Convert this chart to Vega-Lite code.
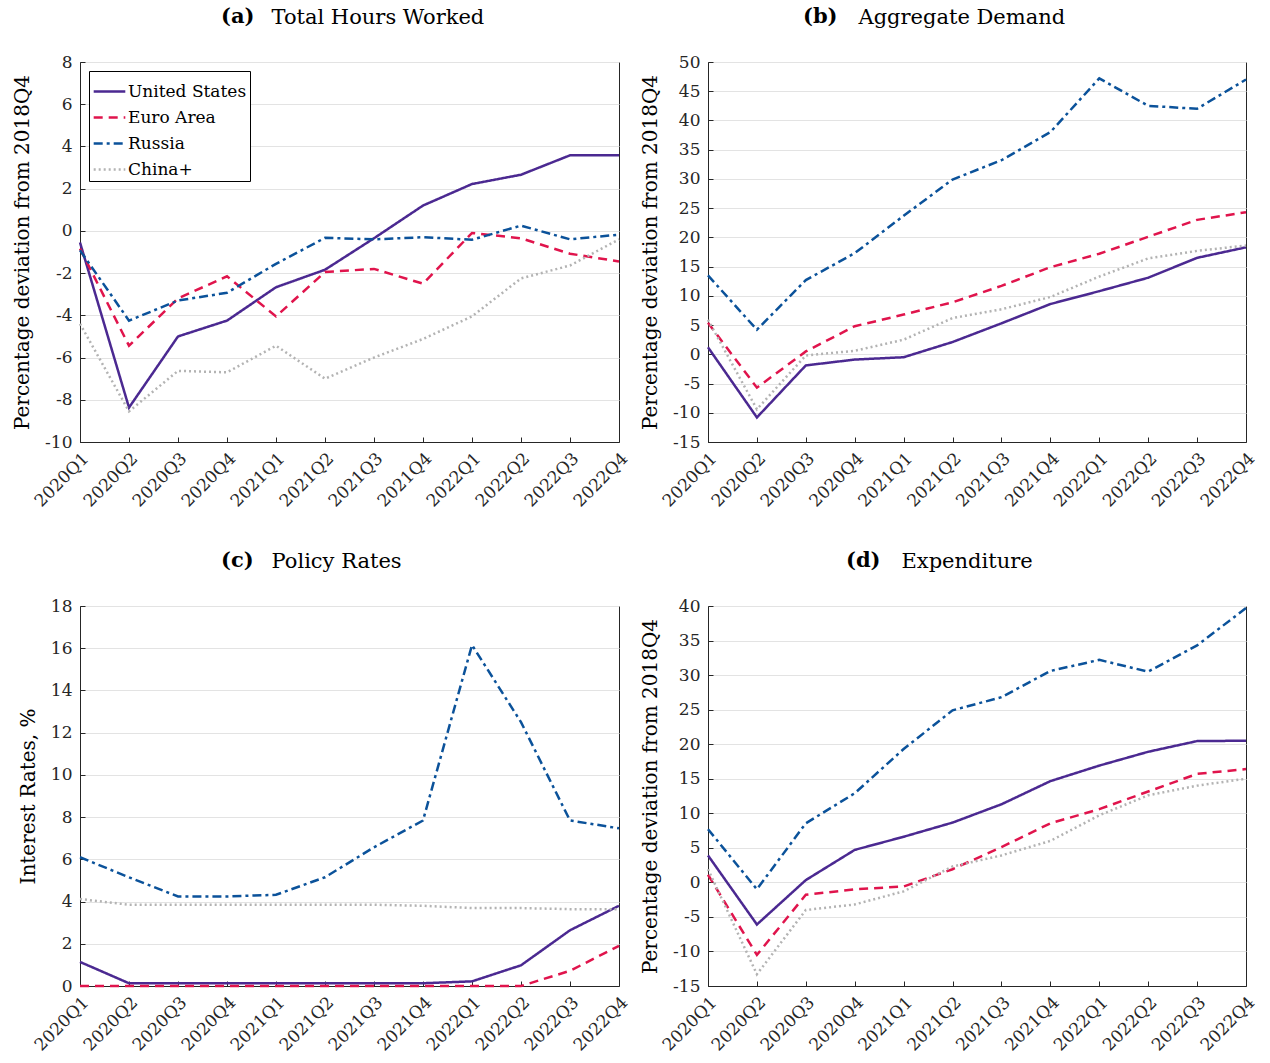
{
  "$schema": "https://vega.github.io/schema/vega-lite/v6.json",
  "background": "white",
  "padding": {"left": 12, "top": 5, "right": 5, "bottom": 5},
  "data": {
    "values": [
      {"p": "a", "q": "2020Q1", "c": "United States", "v": -0.55},
      {"p": "a", "q": "2020Q2", "c": "United States", "v": -8.37},
      {"p": "a", "q": "2020Q3", "c": "United States", "v": -5.0},
      {"p": "a", "q": "2020Q4", "c": "United States", "v": -4.25},
      {"p": "a", "q": "2021Q1", "c": "United States", "v": -2.67},
      {"p": "a", "q": "2021Q2", "c": "United States", "v": -1.84},
      {"p": "a", "q": "2021Q3", "c": "United States", "v": -0.35},
      {"p": "a", "q": "2021Q4", "c": "United States", "v": 1.2},
      {"p": "a", "q": "2022Q1", "c": "United States", "v": 2.22},
      {"p": "a", "q": "2022Q2", "c": "United States", "v": 2.66},
      {"p": "a", "q": "2022Q3", "c": "United States", "v": 3.58},
      {"p": "a", "q": "2022Q4", "c": "United States", "v": 3.58},
      {"p": "a", "q": "2020Q1", "c": "Euro Area", "v": -0.84},
      {"p": "a", "q": "2020Q2", "c": "Euro Area", "v": -5.44},
      {"p": "a", "q": "2020Q3", "c": "Euro Area", "v": -3.2},
      {"p": "a", "q": "2020Q4", "c": "Euro Area", "v": -2.15},
      {"p": "a", "q": "2021Q1", "c": "Euro Area", "v": -4.05},
      {"p": "a", "q": "2021Q2", "c": "Euro Area", "v": -1.95},
      {"p": "a", "q": "2021Q3", "c": "Euro Area", "v": -1.8},
      {"p": "a", "q": "2021Q4", "c": "Euro Area", "v": -2.5},
      {"p": "a", "q": "2022Q1", "c": "Euro Area", "v": -0.1},
      {"p": "a", "q": "2022Q2", "c": "Euro Area", "v": -0.35},
      {"p": "a", "q": "2022Q3", "c": "Euro Area", "v": -1.08},
      {"p": "a", "q": "2022Q4", "c": "Euro Area", "v": -1.45},
      {"p": "a", "q": "2020Q1", "c": "Russia", "v": -0.92},
      {"p": "a", "q": "2020Q2", "c": "Russia", "v": -4.25},
      {"p": "a", "q": "2020Q3", "c": "Russia", "v": -3.3},
      {"p": "a", "q": "2020Q4", "c": "Russia", "v": -2.93},
      {"p": "a", "q": "2021Q1", "c": "Russia", "v": -1.56},
      {"p": "a", "q": "2021Q2", "c": "Russia", "v": -0.33},
      {"p": "a", "q": "2021Q3", "c": "Russia", "v": -0.4},
      {"p": "a", "q": "2021Q4", "c": "Russia", "v": -0.3},
      {"p": "a", "q": "2022Q1", "c": "Russia", "v": -0.42},
      {"p": "a", "q": "2022Q2", "c": "Russia", "v": 0.25},
      {"p": "a", "q": "2022Q3", "c": "Russia", "v": -0.4},
      {"p": "a", "q": "2022Q4", "c": "Russia", "v": -0.18},
      {"p": "a", "q": "2020Q1", "c": "China+", "v": -4.4},
      {"p": "a", "q": "2020Q2", "c": "China+", "v": -8.55},
      {"p": "a", "q": "2020Q3", "c": "China+", "v": -6.63},
      {"p": "a", "q": "2020Q4", "c": "China+", "v": -6.7},
      {"p": "a", "q": "2021Q1", "c": "China+", "v": -5.44},
      {"p": "a", "q": "2021Q2", "c": "China+", "v": -7.0},
      {"p": "a", "q": "2021Q3", "c": "China+", "v": -6.0},
      {"p": "a", "q": "2021Q4", "c": "China+", "v": -5.12},
      {"p": "a", "q": "2022Q1", "c": "China+", "v": -4.05},
      {"p": "a", "q": "2022Q2", "c": "China+", "v": -2.25},
      {"p": "a", "q": "2022Q3", "c": "China+", "v": -1.64},
      {"p": "a", "q": "2022Q4", "c": "China+", "v": -0.4},

      {"p": "b", "q": "2020Q1", "c": "United States", "v": 1.2},
      {"p": "b", "q": "2020Q2", "c": "United States", "v": -10.8},
      {"p": "b", "q": "2020Q3", "c": "United States", "v": -1.9},
      {"p": "b", "q": "2020Q4", "c": "United States", "v": -0.9},
      {"p": "b", "q": "2021Q1", "c": "United States", "v": -0.5},
      {"p": "b", "q": "2021Q2", "c": "United States", "v": 2.1},
      {"p": "b", "q": "2021Q3", "c": "United States", "v": 5.3},
      {"p": "b", "q": "2021Q4", "c": "United States", "v": 8.6},
      {"p": "b", "q": "2022Q1", "c": "United States", "v": 10.8},
      {"p": "b", "q": "2022Q2", "c": "United States", "v": 13.1},
      {"p": "b", "q": "2022Q3", "c": "United States", "v": 16.5},
      {"p": "b", "q": "2022Q4", "c": "United States", "v": 18.3},
      {"p": "b", "q": "2020Q1", "c": "Euro Area", "v": 5.4},
      {"p": "b", "q": "2020Q2", "c": "Euro Area", "v": -5.7},
      {"p": "b", "q": "2020Q3", "c": "Euro Area", "v": 0.5},
      {"p": "b", "q": "2020Q4", "c": "Euro Area", "v": 4.8},
      {"p": "b", "q": "2021Q1", "c": "Euro Area", "v": 6.8},
      {"p": "b", "q": "2021Q2", "c": "Euro Area", "v": 8.9},
      {"p": "b", "q": "2021Q3", "c": "Euro Area", "v": 11.7},
      {"p": "b", "q": "2021Q4", "c": "Euro Area", "v": 14.9},
      {"p": "b", "q": "2022Q1", "c": "Euro Area", "v": 17.2},
      {"p": "b", "q": "2022Q2", "c": "Euro Area", "v": 20.1},
      {"p": "b", "q": "2022Q3", "c": "Euro Area", "v": 23.0},
      {"p": "b", "q": "2022Q4", "c": "Euro Area", "v": 24.3},
      {"p": "b", "q": "2020Q1", "c": "Russia", "v": 13.5},
      {"p": "b", "q": "2020Q2", "c": "Russia", "v": 4.2},
      {"p": "b", "q": "2020Q3", "c": "Russia", "v": 12.7},
      {"p": "b", "q": "2020Q4", "c": "Russia", "v": 17.3},
      {"p": "b", "q": "2021Q1", "c": "Russia", "v": 23.7},
      {"p": "b", "q": "2021Q2", "c": "Russia", "v": 29.9},
      {"p": "b", "q": "2021Q3", "c": "Russia", "v": 33.2},
      {"p": "b", "q": "2021Q4", "c": "Russia", "v": 38.0},
      {"p": "b", "q": "2022Q1", "c": "Russia", "v": 47.2},
      {"p": "b", "q": "2022Q2", "c": "Russia", "v": 42.5},
      {"p": "b", "q": "2022Q3", "c": "Russia", "v": 42.0},
      {"p": "b", "q": "2022Q4", "c": "Russia", "v": 47.0},
      {"p": "b", "q": "2020Q1", "c": "China+", "v": 5.9},
      {"p": "b", "q": "2020Q2", "c": "China+", "v": -9.4},
      {"p": "b", "q": "2020Q3", "c": "China+", "v": -0.2},
      {"p": "b", "q": "2020Q4", "c": "China+", "v": 0.6},
      {"p": "b", "q": "2021Q1", "c": "China+", "v": 2.5},
      {"p": "b", "q": "2021Q2", "c": "China+", "v": 6.2},
      {"p": "b", "q": "2021Q3", "c": "China+", "v": 7.7},
      {"p": "b", "q": "2021Q4", "c": "China+", "v": 9.8},
      {"p": "b", "q": "2022Q1", "c": "China+", "v": 13.3},
      {"p": "b", "q": "2022Q2", "c": "China+", "v": 16.4},
      {"p": "b", "q": "2022Q3", "c": "China+", "v": 17.7},
      {"p": "b", "q": "2022Q4", "c": "China+", "v": 18.6},

      {"p": "c", "q": "2020Q1", "c": "United States", "v": 1.14},
      {"p": "c", "q": "2020Q2", "c": "United States", "v": 0.13},
      {"p": "c", "q": "2020Q3", "c": "United States", "v": 0.13},
      {"p": "c", "q": "2020Q4", "c": "United States", "v": 0.13},
      {"p": "c", "q": "2021Q1", "c": "United States", "v": 0.13},
      {"p": "c", "q": "2021Q2", "c": "United States", "v": 0.13},
      {"p": "c", "q": "2021Q3", "c": "United States", "v": 0.13},
      {"p": "c", "q": "2021Q4", "c": "United States", "v": 0.13},
      {"p": "c", "q": "2022Q1", "c": "United States", "v": 0.22},
      {"p": "c", "q": "2022Q2", "c": "United States", "v": 0.98},
      {"p": "c", "q": "2022Q3", "c": "United States", "v": 2.64},
      {"p": "c", "q": "2022Q4", "c": "United States", "v": 3.8},
      {"p": "c", "q": "2020Q1", "c": "Euro Area", "v": 0},
      {"p": "c", "q": "2020Q2", "c": "Euro Area", "v": 0},
      {"p": "c", "q": "2020Q3", "c": "Euro Area", "v": 0},
      {"p": "c", "q": "2020Q4", "c": "Euro Area", "v": 0},
      {"p": "c", "q": "2021Q1", "c": "Euro Area", "v": 0},
      {"p": "c", "q": "2021Q2", "c": "Euro Area", "v": 0},
      {"p": "c", "q": "2021Q3", "c": "Euro Area", "v": 0},
      {"p": "c", "q": "2021Q4", "c": "Euro Area", "v": 0},
      {"p": "c", "q": "2022Q1", "c": "Euro Area", "v": 0},
      {"p": "c", "q": "2022Q2", "c": "Euro Area", "v": 0},
      {"p": "c", "q": "2022Q3", "c": "Euro Area", "v": 0.72},
      {"p": "c", "q": "2022Q4", "c": "Euro Area", "v": 1.9},
      {"p": "c", "q": "2020Q1", "c": "Russia", "v": 6.1},
      {"p": "c", "q": "2020Q2", "c": "Russia", "v": 5.15},
      {"p": "c", "q": "2020Q3", "c": "Russia", "v": 4.24},
      {"p": "c", "q": "2020Q4", "c": "Russia", "v": 4.24},
      {"p": "c", "q": "2021Q1", "c": "Russia", "v": 4.32},
      {"p": "c", "q": "2021Q2", "c": "Russia", "v": 5.15},
      {"p": "c", "q": "2021Q3", "c": "Russia", "v": 6.57},
      {"p": "c", "q": "2021Q4", "c": "Russia", "v": 7.84},
      {"p": "c", "q": "2022Q1", "c": "Russia", "v": 16.15},
      {"p": "c", "q": "2022Q2", "c": "Russia", "v": 12.5},
      {"p": "c", "q": "2022Q3", "c": "Russia", "v": 7.84},
      {"p": "c", "q": "2022Q4", "c": "Russia", "v": 7.47},
      {"p": "c", "q": "2020Q1", "c": "China+", "v": 4.12},
      {"p": "c", "q": "2020Q2", "c": "China+", "v": 3.85},
      {"p": "c", "q": "2020Q3", "c": "China+", "v": 3.85},
      {"p": "c", "q": "2020Q4", "c": "China+", "v": 3.85},
      {"p": "c", "q": "2021Q1", "c": "China+", "v": 3.85},
      {"p": "c", "q": "2021Q2", "c": "China+", "v": 3.85},
      {"p": "c", "q": "2021Q3", "c": "China+", "v": 3.85},
      {"p": "c", "q": "2021Q4", "c": "China+", "v": 3.8},
      {"p": "c", "q": "2022Q1", "c": "China+", "v": 3.69},
      {"p": "c", "q": "2022Q2", "c": "China+", "v": 3.69},
      {"p": "c", "q": "2022Q3", "c": "China+", "v": 3.64},
      {"p": "c", "q": "2022Q4", "c": "China+", "v": 3.64},

      {"p": "d", "q": "2020Q1", "c": "United States", "v": 3.9},
      {"p": "d", "q": "2020Q2", "c": "United States", "v": -6.1},
      {"p": "d", "q": "2020Q3", "c": "United States", "v": 0.33},
      {"p": "d", "q": "2020Q4", "c": "United States", "v": 4.7},
      {"p": "d", "q": "2021Q1", "c": "United States", "v": 6.6},
      {"p": "d", "q": "2021Q2", "c": "United States", "v": 8.65},
      {"p": "d", "q": "2021Q3", "c": "United States", "v": 11.3},
      {"p": "d", "q": "2021Q4", "c": "United States", "v": 14.65},
      {"p": "d", "q": "2022Q1", "c": "United States", "v": 16.9},
      {"p": "d", "q": "2022Q2", "c": "United States", "v": 18.9},
      {"p": "d", "q": "2022Q3", "c": "United States", "v": 20.45},
      {"p": "d", "q": "2022Q4", "c": "United States", "v": 20.5},
      {"p": "d", "q": "2020Q1", "c": "Euro Area", "v": 1.1},
      {"p": "d", "q": "2020Q2", "c": "Euro Area", "v": -10.5},
      {"p": "d", "q": "2020Q3", "c": "Euro Area", "v": -1.8},
      {"p": "d", "q": "2020Q4", "c": "Euro Area", "v": -1.0},
      {"p": "d", "q": "2021Q1", "c": "Euro Area", "v": -0.6},
      {"p": "d", "q": "2021Q2", "c": "Euro Area", "v": 1.9},
      {"p": "d", "q": "2021Q3", "c": "Euro Area", "v": 5.1},
      {"p": "d", "q": "2021Q4", "c": "Euro Area", "v": 8.55},
      {"p": "d", "q": "2022Q1", "c": "Euro Area", "v": 10.6},
      {"p": "d", "q": "2022Q2", "c": "Euro Area", "v": 13.15},
      {"p": "d", "q": "2022Q3", "c": "Euro Area", "v": 15.7},
      {"p": "d", "q": "2022Q4", "c": "Euro Area", "v": 16.4},
      {"p": "d", "q": "2020Q1", "c": "Russia", "v": 7.7},
      {"p": "d", "q": "2020Q2", "c": "Russia", "v": -1.0},
      {"p": "d", "q": "2020Q3", "c": "Russia", "v": 8.55},
      {"p": "d", "q": "2020Q4", "c": "Russia", "v": 12.9},
      {"p": "d", "q": "2021Q1", "c": "Russia", "v": 19.3},
      {"p": "d", "q": "2021Q2", "c": "Russia", "v": 24.9},
      {"p": "d", "q": "2021Q3", "c": "Russia", "v": 26.8},
      {"p": "d", "q": "2021Q4", "c": "Russia", "v": 30.6},
      {"p": "d", "q": "2022Q1", "c": "Russia", "v": 32.2},
      {"p": "d", "q": "2022Q2", "c": "Russia", "v": 30.5},
      {"p": "d", "q": "2022Q3", "c": "Russia", "v": 34.3},
      {"p": "d", "q": "2022Q4", "c": "Russia", "v": 39.7},
      {"p": "d", "q": "2020Q1", "c": "China+", "v": 1.9},
      {"p": "d", "q": "2020Q2", "c": "China+", "v": -13.3},
      {"p": "d", "q": "2020Q3", "c": "China+", "v": -4.0},
      {"p": "d", "q": "2020Q4", "c": "China+", "v": -3.2},
      {"p": "d", "q": "2021Q1", "c": "China+", "v": -1.3},
      {"p": "d", "q": "2021Q2", "c": "China+", "v": 2.3},
      {"p": "d", "q": "2021Q3", "c": "China+", "v": 3.9},
      {"p": "d", "q": "2021Q4", "c": "China+", "v": 6.0},
      {"p": "d", "q": "2022Q1", "c": "China+", "v": 9.7},
      {"p": "d", "q": "2022Q2", "c": "China+", "v": 12.6},
      {"p": "d", "q": "2022Q3", "c": "China+", "v": 14.0},
      {"p": "d", "q": "2022Q4", "c": "China+", "v": 15.0}
    ]
  },
  "columns": 2,
  "align": {"row": "all", "column": "none"},
  "spacing": {"row": 39, "column": 9},
  "concat": [
    {
      "width": 539,
      "height": 380,
      "title": {"text": "(a)", "dx": 141},
      "transform": [{"filter": "datum.p == 'a'"}],
      "mark": {"type": "line", "strokeWidth": 2.5},
      "encoding": {
        "x": {"field": "q", "type": "ordinal", "scale": {"type": "point", "padding": 0},
          "axis": {"title": "Total Hours Worked", "titleX": 191, "labelAngle": -45}},
        "y": {"field": "v", "type": "quantitative", "scale": {"domain": [-10, 8], "nice": false, "zero": false},
          "axis": {"title": "Percentage deviation from 2018Q4", "values": [-10, -8, -6, -4, -2, 0, 2, 4, 6, 8]}},
        "color": {"field": "c", "type": "nominal",
          "scale": {"domain": ["United States", "Euro Area", "Russia", "China+"], "range": ["#4b2991", "#e0144c", "#0b529a", "#b3b3b3"]},
          "legend": {"title": null, "orient": "top-left", "offset": 9, "strokeColor": "black", "fillColor": "white", "padding": 3,
            "symbolType": "stroke", "symbolSize": 1000, "symbolStrokeWidth": 2.5, "labelFontSize": 17, "rowPadding": 0, "labelOffset": 1}},
        "strokeDash": {"field": "c", "type": "nominal",
          "scale": {"domain": ["United States", "Euro Area", "Russia", "China+"], "range": [[1, 0], [9, 6], [9, 4, 3, 4], [2, 3]]},
          "legend": {"title": null, "orient": "top-left", "offset": 9, "strokeColor": "black", "fillColor": "white", "padding": 3,
            "symbolType": "stroke", "symbolSize": 1000, "symbolStrokeWidth": 2.5, "labelFontSize": 17, "rowPadding": 0, "labelOffset": 1}}
      }
    },
    {
      "width": 538,
      "height": 380,
      "title": {"text": "(b)", "dx": 95},
      "transform": [{"filter": "datum.p == 'b'"}],
      "mark": {"type": "line", "strokeWidth": 2.5},
      "encoding": {
        "x": {"field": "q", "type": "ordinal", "scale": {"type": "point", "padding": 0},
          "axis": {"title": "Aggregate Demand", "titleX": 150, "labelAngle": -45}},
        "y": {"field": "v", "type": "quantitative", "scale": {"domain": [-15, 50], "nice": false, "zero": false},
          "axis": {"title": "Percentage deviation from 2018Q4", "values": [-15, -10, -5, 0, 5, 10, 15, 20, 25, 30, 35, 40, 45, 50]}},
        "color": {"field": "c", "type": "nominal",
          "scale": {"domain": ["United States", "Euro Area", "Russia", "China+"], "range": ["#4b2991", "#e0144c", "#0b529a", "#b3b3b3"]}, "legend": null},
        "strokeDash": {"field": "c", "type": "nominal",
          "scale": {"domain": ["United States", "Euro Area", "Russia", "China+"], "range": [[1, 0], [9, 6], [9, 4, 3, 4], [2, 3]]}, "legend": null}
      }
    },
    {
      "width": 539,
      "height": 380,
      "title": {"text": "(c)", "dx": 141},
      "transform": [{"filter": "datum.p == 'c'"}],
      "mark": {"type": "line", "strokeWidth": 2.5},
      "encoding": {
        "x": {"field": "q", "type": "ordinal", "scale": {"type": "point", "padding": 0},
          "axis": {"title": "Policy Rates", "titleX": 191, "labelAngle": -45}},
        "y": {"field": "v", "type": "quantitative", "scale": {"domain": [0, 18], "nice": false},
          "axis": {"title": "Interest Rates, %", "values": [0, 2, 4, 6, 8, 10, 12, 14, 16, 18]}},
        "color": {"field": "c", "type": "nominal",
          "scale": {"domain": ["United States", "Euro Area", "Russia", "China+"], "range": ["#4b2991", "#e0144c", "#0b529a", "#b3b3b3"]}, "legend": null},
        "strokeDash": {"field": "c", "type": "nominal",
          "scale": {"domain": ["United States", "Euro Area", "Russia", "China+"], "range": [[1, 0], [9, 6], [9, 4, 3, 4], [2, 3]]}, "legend": null}
      }
    },
    {
      "width": 538,
      "height": 380,
      "title": {"text": "(d)", "dx": 138},
      "transform": [{"filter": "datum.p == 'd'"}],
      "mark": {"type": "line", "strokeWidth": 2.5},
      "encoding": {
        "x": {"field": "q", "type": "ordinal", "scale": {"type": "point", "padding": 0},
          "axis": {"title": "Expenditure", "titleX": 193, "labelAngle": -45}},
        "y": {"field": "v", "type": "quantitative", "scale": {"domain": [-15, 40], "nice": false, "zero": false},
          "axis": {"title": "Percentage deviation from 2018Q4", "values": [-15, -10, -5, 0, 5, 10, 15, 20, 25, 30, 35, 40]}},
        "color": {"field": "c", "type": "nominal",
          "scale": {"domain": ["United States", "Euro Area", "Russia", "China+"], "range": ["#4b2991", "#e0144c", "#0b529a", "#b3b3b3"]}, "legend": null},
        "strokeDash": {"field": "c", "type": "nominal",
          "scale": {"domain": ["United States", "Euro Area", "Russia", "China+"], "range": [[1, 0], [9, 6], [9, 4, 3, 4], [2, 3]]}, "legend": null}
      }
    }
  ],
  "resolve": {"scale": {"color": "independent", "strokeDash": "independent"}},
  "config": {
    "font": "DejaVu Serif",
    "view": {"stroke": "#262626", "strokeWidth": 1},
    "title": {"fontSize": 21, "fontWeight": "bold", "color": "black", "anchor": "start", "frame": "group",
      "baseline": "alphabetic", "offset": -21},
    "axis": {"labelFontSize": 17, "titleFontSize": 20, "titleFontWeight": "normal", "labelColor": "#262626", "titleColor": "black",
      "gridColor": "#e3e3e3", "domainColor": "#262626", "tickColor": "#262626", "tickSize": -5, "labelPadding": 13, "titlePadding": 12,
      "labelFlush": false, "labelExpr": "replace(datum.label, '\u2212', '-')"},
    "axisX": {"titleY": -419, "titleAlign": "left", "titleBaseline": "alphabetic", "titleAngle": 0, "titleFontSize": 21},
    "legend": {"labelFont": "DejaVu Serif", "labelColor": "black"}
  }
}
